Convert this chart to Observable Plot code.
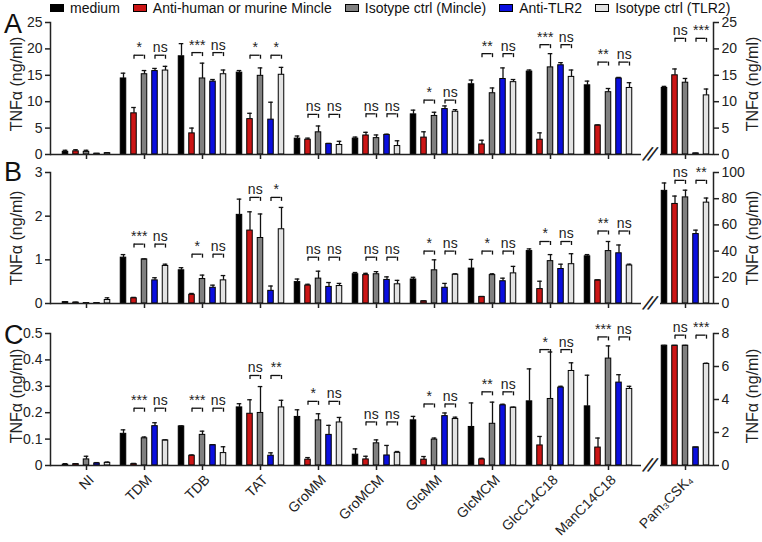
<!DOCTYPE html>
<html><head><meta charset="utf-8">
<script src="https://cdn.jsdelivr.net/npm/d3@7"></script>
<script src="https://cdn.jsdelivr.net/npm/@observablehq/plot@0.6"></script>
<style>
body{margin:0;background:#fff;font-family:"Liberation Sans",Arial,sans-serif;}
#chart{position:relative;width:762px;height:542px;overflow:hidden;background:#fff;}
#chart svg{position:absolute;}
.plab{position:absolute;font-size:27px;line-height:1;color:#111;}
.ytitle{position:absolute;font-size:16px;color:#222;white-space:nowrap;transform:translate(-50%,-50%) rotate(-90deg);}
#legend{position:absolute;left:50px;top:1px;display:flex;align-items:center;font-size:14px;line-height:14px;color:#111;white-space:nowrap;}
#legend .it{display:flex;align-items:center;margin-right:13px;}
#legend .sw{width:12px;height:6px;border:1px solid #000;margin-right:6px;}
</style></head><body><div id="chart"></div>
<script>
// ---------- data ----------
const groups = ["NI","TDM","TDB","TAT","GroMM","GroMCM","GlcMM","GlcMCM","GlcC14C18","ManC14C18"];
const pamGroup = ["Pam₃CSK₄"];
const series = ["medium","Anti-human or murine Mincle","Isotype ctrl (Mincle)","Anti-TLR2","Isotype ctrl (TLR2)"];
const colors = ["#000000","#cc1515","#808080","#0b0fe0","#e2e2e2"];

// Panel A (ng/ml), per group: [medium, anti-Mincle, iso Mincle, anti-TLR2, iso TLR2]
const aMeans = [[0.5,0.6,0.5,0.15,0.25],[14.4,7.8,15.2,15.8,15.9],[18.6,4.0,14.4,13.8,15.2],[15.5,6.7,14.9,6.6,15.1],[3.0,2.8,4.2,2.0,1.8],[3.0,3.6,3.1,3.7,1.6],[7.6,3.2,7.3,8.6,8.1],[13.3,1.9,11.6,14.3,13.7],[15.7,2.8,16.5,16.9,14.7],[13.1,5.5,11.8,14.4,12.6]];
const aErrs = [[0.3,0.3,0.3,0.05,0.1],[1.0,1.1,0.7,0.5,0.8],[2.4,1.0,2.9,0.4,0.8],[0.4,1.1,1.5,3.3,1.4],[0.5,0.3,1.2,0.1,0.7],[0.3,0.6,0.6,0.15,1.0],[0.8,1.1,0.7,0.6,0.4],[0.8,0.8,1.0,2.1,0.5],[0.3,1.3,2.6,0.5,1.3],[0.8,0.1,0.7,0.2,1.0]];
const aPam = [12.6,15.0,13.6,0.2,11.2];
const aPamErr = [0.3,1.2,0.8,0.05,1.2];
const aBrackets = [null,18.8,19.3,18.8,7.6,7.7,10.3,19.1,20.8,17.5];
const aPamBracket = 22.0;
const aSig = [null,["*","ns"],["***","ns"],["*","*"],["ns","ns"],["ns","ns"],["*","ns"],["**","ns"],["***","ns"],["**","ns"]];
const aPamSig = ["ns","***"];

// Panel B
const bMeans = [[0.03,0.02,0.01,0.01,0.08],[1.05,0.12,1.01,0.53,0.86],[0.76,0.20,0.56,0.36,0.53],[2.03,1.67,1.50,0.29,1.70],[0.49,0.41,0.57,0.38,0.40],[0.67,0.65,0.67,0.54,0.44],[0.55,0.05,0.76,0.36,0.66],[0.80,0.15,0.65,0.51,0.69],[1.20,0.33,0.97,0.79,0.90],[1.08,0.53,1.20,1.15,0.87]];
const bErrs = [[0.01,0.01,0.005,0.005,0.05],[0.07,0.02,0.01,0.06,0.04],[0.06,0.03,0.09,0.06,0.11],[0.36,0.43,0.55,0.11,0.50],[0.07,0.03,0.17,0.10,0.06],[0.04,0.04,0.06,0.07,0.09],[0.05,0.01,0.24,0.10,0.02],[0.21,0.01,0.03,0.07,0.16],[0.05,0.18,0.15,0.11,0.24],[0.04,0.01,0.22,0.19,0.03]];
const bPam = [86,76,81,53,77];
const bPamErr = [6,6,5.5,3,3.5];
const bBrackets = [null,1.36,1.13,2.43,1.06,1.06,1.2,1.2,1.42,1.66];
const bPamBracket = 94;
const bSig = [null,["***","ns"],["*","ns"],["ns","*"],["ns","ns"],["ns","ns"],["*","ns"],["*","ns"],["*","ns"],["**","ns"]];
const bPamSig = ["ns","**"];

// Panel C
const cMeans = [[0.003,0.005,0.023,0.008,0.01],[0.12,0.005,0.103,0.149,0.095],[0.148,0.037,0.116,0.077,0.047],[0.22,0.196,0.199,0.037,0.22],[0.184,0.022,0.171,0.116,0.163],[0.041,0.023,0.084,0.038,0.048],[0.171,0.022,0.098,0.187,0.176],[0.146,0.023,0.158,0.228,0.219],[0.243,0.076,0.252,0.295,0.358],[0.224,0.068,0.405,0.314,0.29]];
const cErrs = [[0.004,0.002,0.012,0.003,0.003],[0.015,0.003,0.005,0.013,0.002],[0.002,0.003,0.014,0.002,0.024],[0.014,0.053,0.1,0.011,0.027],[0.027,0.008,0.025,0.036,0.019],[0.022,0.012,0.013,0.038,0.005],[0.015,0.012,0.006,0.012,0.007],[0.091,0.004,0.082,0.004,0.002],[0.123,0.034,0.178,0.005,0.031],[0.118,0.036,0.048,0.03,0.01]];
const cPam = [7.26,7.26,7.26,1.1,6.15];
const cPamErr = [0.02,0.02,0.02,0.01,0.05];
const cBrackets = [null,0.217,0.217,0.341,0.243,0.165,0.233,0.279,0.439,0.487];
const cPamBracket = 7.9;
const cSig = [null,["***","ns"],["***","ns"],["ns","**"],["*","ns"],["ns","ns"],["*","ns"],["**","ns"],["*","ns"],["***","ns"]];
const cPamSig = ["ns","***"];

const yTitle = "TNFα (ng/ml)";

// ---------- layout constants ----------
const STEP = 58.9;               // group band width
const OFF = [-21, -10.5, 0, 10.5, 21];
const BAR_W = 6.4, CAP_W = 5.5;
const FONT = '"Liberation Sans", Arial, sans-serif';
const chart = document.getElementById("chart");

function toRows(names, means, errs) {
  const out = [];
  names.forEach((g, gi) => means[gi].forEach((v, si) => out.push({group: g, si, value: v, err: errs[gi][si]})));
  return out;
}
function toBrackets(names, ys, sigs) {
  const out = [];
  names.forEach((g, gi) => { if (ys[gi] != null) out.push({group: g, y: ys[gi], sig: sigs[gi]}); });
  return out;
}

function barMarks(rows, brk, tickLen) {
  const m = [];
  for (let s = 0; s < 5; s++) {
    const d = rows.filter(r => r.si === s);
    const ins = (STEP - BAR_W) / 2, cins = (STEP - CAP_W) / 2;
    m.push(Plot.barY(d, {x: "group", y: "value", fill: colors[s], stroke: "#000", strokeWidth: 1, insetLeft: ins, insetRight: ins, dx: OFF[s]}));
    m.push(Plot.ruleX(d, {x: "group", y1: "value", y2: r => r.value + r.err, dx: OFF[s], stroke: "#111", strokeWidth: 1.3}));
    m.push(Plot.tickY(d, {x: "group", y: r => r.value + r.err, dx: OFF[s], insetLeft: cins, insetRight: cins, stroke: "#111", strokeWidth: 1.3}));
  }
  for (let p = 0; p < 2; p++) {
    const l = 1 + 2 * p, r = 2 + 2 * p;
    const mid = (OFF[l] + OFF[r]) / 2, w = OFF[r] - OFF[l];
    const bins = (STEP - w) / 2;
    m.push(Plot.tickY(brk, {x: "group", y: "y", dx: mid, insetLeft: bins, insetRight: bins, stroke: "#111", strokeWidth: 1.3}));
    m.push(Plot.ruleX(brk, {x: "group", y1: "y", y2: d => d.y - tickLen, dx: OFF[l], stroke: "#111", strokeWidth: 1.3}));
    m.push(Plot.ruleX(brk, {x: "group", y1: "y", y2: d => d.y - tickLen, dx: OFF[r], stroke: "#111", strokeWidth: 1.3}));
    m.push(Plot.text(brk, {x: "group", y: "y", text: d => d.sig[p], dx: mid, dy: -3, lineAnchor: "bottom", fontSize: 14, fill: "#222"}));
  }
  return m;
}

function xAxes(labels) {
  const ax = [Plot.axisX({tickSize: 5, tickFormat: () => "", label: null, stroke: "#222", strokeWidth: 1.5})];
  if (labels) ax.push(Plot.axisX({tickSize: 0, tickPadding: 12, tickRotate: -45, dx: 5, fontSize: 14, label: null, color: "#222"}));
  return ax;
}

function place(svg, left, top) {
  svg.style.left = left + "px";
  svg.style.top = top + "px";
  chart.appendChild(svg);
}

function panel(cfg) {
  const {top, height, mt, mb, means, errs, brackets, sigs, yMax, yTicks, pam, pamErr, pamBracket, pamSig, pamMax, pamTicks, labels, titleShift} = cfg;
  const plotH = height - mt - mb;
  const rows = toRows(groups, means, errs);
  const brk = toBrackets(groups, brackets, sigs);
  const main = Plot.plot({
    width: 641, height, marginLeft: 50, marginRight: 0, marginTop: mt, marginBottom: mb,
    style: {background: "transparent", overflow: "visible", fontFamily: FONT},
    x: {type: "band", domain: groups, range: [82 - STEP / 2, 82 + 9 * STEP + STEP / 2], padding: 0},
    y: {domain: [0, yMax]},
    marks: [
      ...barMarks(rows, brk, yMax * 4 / plotH),
      Plot.ruleY([0], {stroke: "#222", strokeWidth: 1.5}),
      Plot.frame({anchor: "left", stroke: "#222", strokeWidth: 1.5}),
      Plot.axisY({ticks: yTicks, tickFormat: d => String(d), tickSize: 5, tickPadding: 3, fontSize: 14, label: null, stroke: "#222", strokeWidth: 1.5, color: "#222"}),
      ...xAxes(labels)
    ]
  });
  place(main, 0, top);

  const prow = toRows(pamGroup, [pam], [pamErr]);
  const pbrk = toBrackets(pamGroup, [pamBracket], [pamSig]);
  const side = Plot.plot({
    width: 121, height, marginLeft: 19, marginRight: 49, marginTop: mt, marginBottom: mb,
    style: {background: "transparent", overflow: "visible", fontFamily: FONT},
    x: {type: "band", domain: pamGroup, range: [685 - 641 - STEP / 2, 685 - 641 + STEP / 2], padding: 0},
    y: {domain: [0, pamMax]},
    marks: [
      ...barMarks(prow, pbrk, pamMax * 4 / plotH),
      Plot.ruleY([0], {stroke: "#222", strokeWidth: 1.5}),
      Plot.frame({anchor: "right", stroke: "#222", strokeWidth: 1.5}),
      Plot.text(["/"], {frameAnchor: "bottom-left", text: d => d, dx: -13, dy: 0, rotate: 22, fontSize: 22, fill: "#222", textAnchor: "middle", lineAnchor: "middle"}),
      Plot.text(["/"], {frameAnchor: "bottom-left", text: d => d, dx: -8, dy: 0, rotate: 22, fontSize: 22, fill: "#222", textAnchor: "middle", lineAnchor: "middle"}),
      Plot.axisY({anchor: "right", ticks: pamTicks, tickFormat: d => String(d), tickSize: 5, tickPadding: 3, fontSize: 14, label: null, stroke: "#222", strokeWidth: 1.5, color: "#222"}),
      ...xAxes(labels)
    ]
  });
  place(side, 641, top);

  const cy = top + mt + plotH / 2 + (titleShift || 0);
  for (const x of [17, 753]) {
    const t = document.createElement("div");
    t.className = "ytitle"; t.textContent = yTitle;
    t.style.left = x + "px"; t.style.top = cy + "px";
    chart.appendChild(t);
  }
}

panel({top: 0, height: 160, mt: 22, mb: 6, means: aMeans, errs: aErrs, brackets: aBrackets, sigs: aSig, yMax: 25, yTicks: [0,5,10,15,20,25],
  pam: aPam, pamErr: aPamErr, pamBracket: aPamBracket, pamSig: aPamSig, pamMax: 25, pamTicks: [0,5,10,15,20,25], labels: false, titleShift: -4});
panel({top: 160, height: 150, mt: 12, mb: 7, means: bMeans, errs: bErrs, brackets: bBrackets, sigs: bSig, yMax: 3, yTicks: [0,1,2,3],
  pam: bPam, pamErr: bPamErr, pamBracket: bPamBracket, pamSig: bPamSig, pamMax: 100, pamTicks: [0,20,40,60,80,100], labels: false});
panel({top: 310, height: 232, mt: 23, mb: 77, means: cMeans, errs: cErrs, brackets: cBrackets, sigs: cSig, yMax: 0.5, yTicks: [0,0.1,0.2,0.3,0.4,0.5],
  pam: cPam, pamErr: cPamErr, pamBracket: cPamBracket, pamSig: cPamSig, pamMax: 8, pamTicks: [0,2,4,6,8], labels: true, titleShift: -3});

// panel letters
[["A", 14], ["B", 162], ["C", 325]].forEach(([t, y]) => {
  const d = document.createElement("div");
  d.className = "plab"; d.textContent = t;
  d.style.left = "4px"; d.style.top = (y - 3) + "px";
  chart.appendChild(d);
});

// legend
const leg = document.createElement("div");
leg.id = "legend";
series.forEach((s, i) => {
  const it = document.createElement("div"); it.className = "it";
  const sw = document.createElement("div"); sw.className = "sw"; sw.style.background = colors[i];
  const tx = document.createElement("span"); tx.textContent = s;
  it.appendChild(sw); it.appendChild(tx); leg.appendChild(it);
});
chart.appendChild(leg);
</script>
</body></html>
